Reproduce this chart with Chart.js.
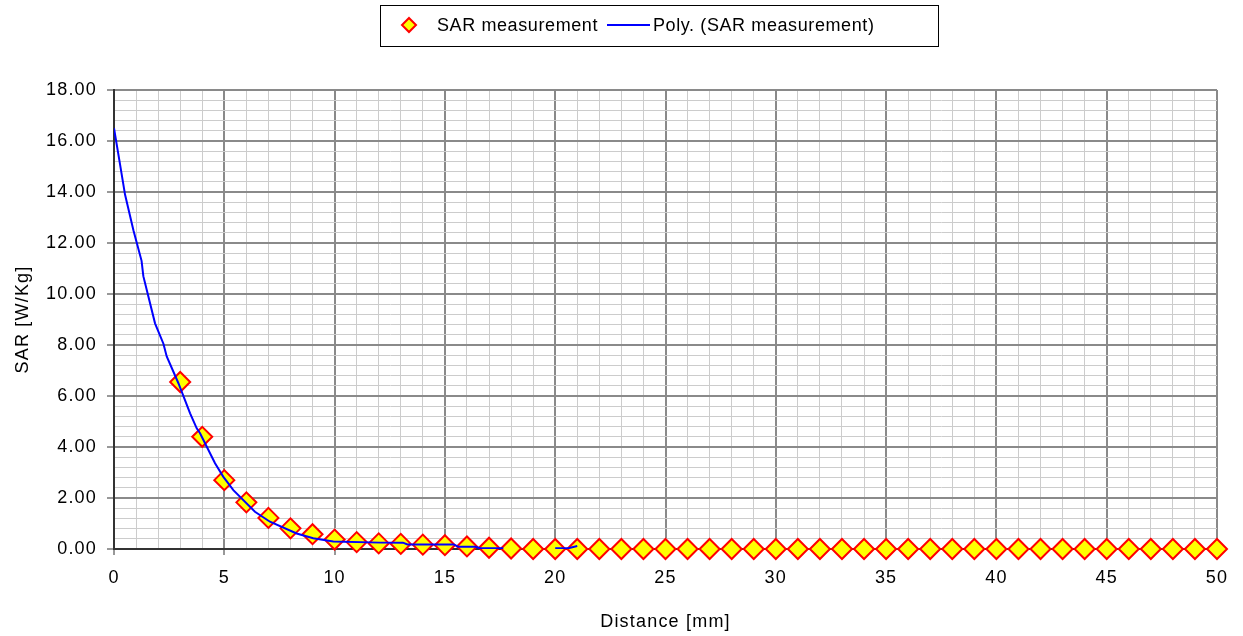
<!DOCTYPE html>
<html>
<head>
<meta charset="utf-8">
<script src="https://cdn.jsdelivr.net/npm/chart.js@4.4.0/dist/chart.umd.min.js"></script>
<style>
  html, body { margin: 0; padding: 0; background: #fff; }
  #wrap { width: 1243px; height: 636px; }
</style>
</head>
<body>
<div id="wrap"><canvas id="sarChart"></canvas></div>
<script>
// SAR measurement points (distance in mm, SAR in W/Kg)
const distances = [3, 4, 5, 6, 7, 8, 9, 10, 11, 12, 13, 14, 15, 16, 17, 18, 19, 20,
  21, 22, 23, 24, 25, 26, 27, 28, 29, 30, 31, 32, 33, 34, 35, 36, 37, 38, 39, 40,
  41, 42, 43, 44, 45, 46, 47, 48, 49, 50];
const sarValues = [6.55, 4.40, 2.70, 1.83, 1.22, 0.81, 0.58, 0.37, 0.27, 0.22, 0.20, 0.17, 0.15, 0.10, 0.05, 0.02, 0, 0,
  0, 0, 0, 0, 0, 0, 0, 0, 0, 0, 0, 0, 0, 0, 0, 0, 0, 0, 0, 0,
  0, 0, 0, 0, 0, 0, 0, 0, 0, 0];

// poly trendline (null = gap)
const polyDistances = [0, 0.27, 0.5, 0.88, 1.25, 1.33, 1.86, 2.24, 2.39, 2.92, 3.45, 3.75, 3.9, 4.58, 4.95,
  5.41, 6.39, 7.07, 8.28, 9.03, 9.94, 12.06, 13.1, 13.3, 15.4, 15.6, 16.4, 16.6, 17.65, 18.5, 20.0, 20.6, 21.0];
const polySar = [16.5, 15.1, 13.9, 12.5, 11.3, 10.7, 8.85, 8.05, 7.55, 6.5, 5.32, 4.73, 4.54, 3.36, 2.84,
  2.31, 1.46, 1.07, 0.61, 0.42, 0.29, 0.25, 0.25, 0.18, 0.18, 0.09, 0.09, 0.03, 0.03, null, 0.03, 0.03, 0.12];

// tick labels
const xLabels = [0, 5, 10, 15, 20, 25, 30, 35, 40, 45, 50];
const yLabels = ['0.00', '2.00', '4.00', '6.00', '8.00', '10.00', '12.00', '14.00', '16.00', '18.00'];

const seriesNames = ['SAR measurement', 'Poly. (SAR measurement)'];

const FONT = '"Liberation Sans", Arial, sans-serif';
const MAJOR = '#8a8a8a';
const MINOR = '#cccccc';
const AXIS = '#333333';

function isMajorX(v) { return xLabels.includes(v); }
function yLabelFor(v) {
  return yLabels.find(l => Math.abs(parseFloat(l) - v) < 1e-6);
}

// spacing like the original's wide text
const spacing = {
  id: 'spacing',
  beforeDraw(chart) { chart.ctx.letterSpacing = '1.2px'; }
};

// legend box drawn by hand so it sits where the original has it
const legendBox = {
  id: 'legendBox',
  afterDraw(chart) {
    const c = chart.ctx;
    c.save();
    c.letterSpacing = '0.6px';
    c.strokeStyle = '#000';
    c.lineWidth = 1;
    c.strokeRect(380.5, 5.5, 558, 41);

    Chart.helpers.drawPoint(c, {
      pointStyle: 'rectRot', radius: 7, borderWidth: 2
    }, 409, 25);
    c.fillStyle = '#ffff00';
    c.strokeStyle = '#ff0000';
    c.lineWidth = 2;
    c.beginPath();
    c.moveTo(409, 18); c.lineTo(416, 25); c.lineTo(409, 32); c.lineTo(402, 25);
    c.closePath();
    c.fill(); c.stroke();

    c.strokeStyle = '#0000ff';
    c.lineWidth = 2;
    c.beginPath();
    c.moveTo(607, 25); c.lineTo(650, 25);
    c.stroke();

    c.fillStyle = '#000';
    c.font = '18px ' + FONT;
    c.textBaseline = 'middle';
    c.textAlign = 'left';
    c.fillText(seriesNames[0], 437, 26);
    c.fillText(seriesNames[1], 653, 26);
    c.restore();
  }
};

const ctx = document.getElementById('sarChart').getContext('2d');

new Chart(ctx, {
  type: 'scatter',
  data: {
    datasets: [
      {
        label: seriesNames[1],
        data: polyDistances.map((d, i) => ({ x: d, y: polySar[i] })),
        showLine: true,
        borderColor: '#0000ff',
        borderWidth: 2,
        pointRadius: 0,
        tension: 0,
        spanGaps: false,
        order: 0
      },
      {
        label: seriesNames[0],
        data: distances.map((d, i) => ({ x: d, y: sarValues[i] })),
        pointStyle: 'rectRot',
        pointRadius: 10,
        pointBackgroundColor: '#ffff00',
        pointBorderColor: '#ff0000',
        pointBorderWidth: 2,
        clip: false,
        order: 1
      }
    ]
  },
  options: {
    responsive: true,
    maintainAspectRatio: false,
    animation: false,
    layout: { padding: { top: 90, right: 26, left: 0, bottom: 0 } },
    plugins: {
      legend: { display: false },
      tooltip: { enabled: false }
    },
    scales: {
      x: {
        type: 'linear',
        min: 0,
        max: 50,
        afterFit(scale) { scale.height = 87; },
        ticks: {
          stepSize: 1,
          autoSkip: false,
          maxRotation: 0,
          padding: 12,
          color: '#000',
          font: { family: FONT, size: 18 },
          callback: v => isMajorX(v) ? String(v) : ''
        },
        grid: {
          color: c => c.tick.value === 0 ? AXIS : (isMajorX(c.tick.value) ? MAJOR : MINOR),
          lineWidth: c => isMajorX(c.tick.value) ? 2 : 1,
          tickColor: c => isMajorX(c.tick.value) ? AXIS : 'rgba(0,0,0,0)',
          tickLength: 6,
          tickWidth: 1
        },
        border: { color: AXIS, width: 2 },
        title: {
          display: true,
          text: 'Distance [mm]',
          color: '#000',
          font: { family: FONT, size: 18 },
          padding: { top: 0, bottom: 3 }
        }
      },
      y: {
        min: 0,
        max: 18,
        afterFit(scale) { scale.width = 114; },
        ticks: {
          stepSize: 0.4,
          autoSkip: false,
          padding: 10,
          color: '#000',
          font: { family: FONT, size: 18 },
          callback: v => yLabelFor(v) || ''
        },
        grid: {
          color: c => Math.abs(c.tick.value) < 1e-6 ? AXIS : (yLabelFor(c.tick.value) ? MAJOR : MINOR),
          lineWidth: c => yLabelFor(c.tick.value) ? 2 : 1,
          tickColor: c => yLabelFor(c.tick.value) ? AXIS : 'rgba(0,0,0,0)',
          tickLength: 7,
          tickWidth: 1
        },
        border: { color: AXIS, width: 2 },
        title: {
          display: true,
          text: 'SAR [W/Kg]',
          color: '#000',
          font: { family: FONT, size: 18 },
          padding: { top: 12, bottom: 0 }
        }
      }
    }
  },
  plugins: [spacing, legendBox]
});
</script>
</body>
</html>
